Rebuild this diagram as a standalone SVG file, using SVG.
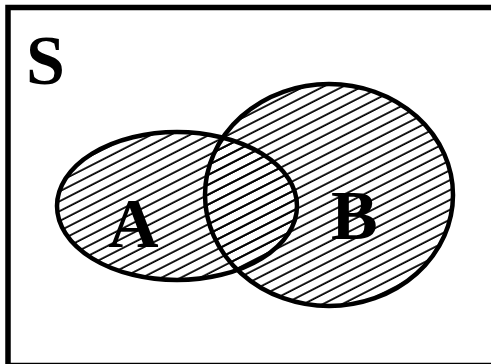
<svg xmlns="http://www.w3.org/2000/svg" width="491" height="364" viewBox="0 0 491 364">
  <style>
    .frame { fill: #ffffff; stroke: #000000; stroke-width: 5.5; }
    .set-fill { fill: url(#hatch); stroke: none; }
    .set-line { fill: none; stroke: #000000; stroke-width: 4.5; }
    .label { font-family: "Liberation Serif", "Times New Roman", serif; font-weight: bold; font-size: 70px; fill: #000000; }
  </style>
  <defs>
    <pattern id="hatch" patternUnits="userSpaceOnUse" width="20" height="8.8" patternTransform="rotate(-27)">
      <line x1="-5" y1="4" x2="25" y2="4" stroke="#000000" stroke-width="1.8"/>
    </pattern>
  </defs>
  <rect x="0" y="0" width="491" height="364" fill="#ffffff"/>
  <g id="universe">
    <rect class="frame" x="8" y="7.5" width="500" height="358"/>
    <text class="label" x="26" y="84">S</text>
  </g>
  <g id="set-A-fill">
    <ellipse class="set-fill" cx="177" cy="206" rx="120" ry="74"/>
  </g>
  <g id="set-B-fill">
    <ellipse class="set-fill" cx="329" cy="195" rx="124" ry="111"/>
  </g>
  <g id="set-A">
    <ellipse class="set-line" cx="177" cy="206" rx="120" ry="74"/>
    <text class="label" x="108" y="247">A</text>
  </g>
  <g id="set-B">
    <ellipse class="set-line" cx="329" cy="195" rx="124" ry="111"/>
    <text class="label" x="331" y="239">B</text>
  </g>
  <g id="connectors"></g>
</svg>
